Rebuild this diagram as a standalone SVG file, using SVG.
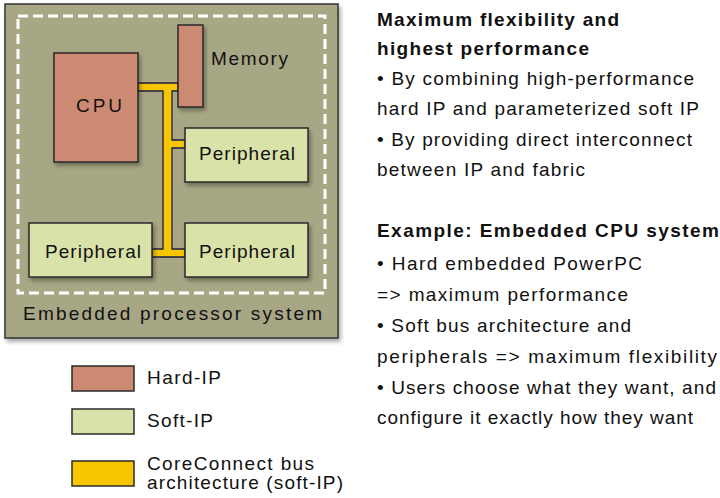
<svg xmlns="http://www.w3.org/2000/svg" width="720" height="498" viewBox="0 0 720 498">
<defs>
<filter id="sh" x="-10%" y="-10%" width="130%" height="130%">
<feGaussianBlur in="SourceAlpha" stdDeviation="2"/>
<feOffset dx="2" dy="3" result="b"/>
<feComponentTransfer><feFuncA type="linear" slope="0.35"/></feComponentTransfer>
<feMerge><feMergeNode/><feMergeNode in="SourceGraphic"/></feMerge>
</filter>
<style>
text{font-family:"Liberation Sans",Arial,Helvetica,sans-serif;fill:#111;}
.t{font-size:19px;}
.b{font-size:19px;font-weight:bold;}
.n{font-size:19px;}
.hard{fill:#cd8a72;stroke:#2a2a2a;stroke-width:1.5;}
.soft{fill:#d9e2a8;stroke:#2a2a2a;stroke-width:1.5;}
.bus{fill:#f7c600;stroke:#1c1c40;stroke-width:1.3;}
</style>
</defs>
<rect width="720" height="498" fill="#ffffff"/>

<g id="system">
<rect x="5" y="4" width="333" height="334" fill="#a8a785" stroke="#333" stroke-width="1.5" filter="url(#sh)"/>
<rect x="18" y="16" width="307" height="277" fill="none" stroke="#ffffff" stroke-width="3" stroke-dasharray="10 5"/>
<text class="n" x="23" y="320" textLength="299" font-size="21">Embedded processor system</text>
</g>

<g id="connectors">
<path class="bus" d="M138,83 H178 V91 H172 V140 H185 V148 H172 V249 H185 V257 H152 V249 H163 V91 H138 Z"/>
</g>

<g id="cpu">
<rect class="hard" x="54" y="53" width="84" height="109" filter="url(#sh)"/>
<text class="n" x="76" y="112" textLength="46" font-size="20">CPU</text>
</g>

<g id="memory">
<rect class="hard" x="178" y="25" width="25" height="82" filter="url(#sh)"/>
<text class="n" x="211" y="65" textLength="77">Memory</text>
</g>

<g id="peripheral1">
<rect class="soft" x="185" y="128" width="123" height="54" filter="url(#sh)"/>
<text class="n" x="199" y="160" textLength="96" font-size="20">Peripheral</text>
</g>

<g id="peripheral2">
<rect class="soft" x="29" y="223" width="123" height="54" filter="url(#sh)"/>
<text class="n" x="45" y="258" textLength="96" font-size="20">Peripheral</text>
</g>

<g id="peripheral3">
<rect class="soft" x="185" y="223" width="123" height="54" filter="url(#sh)"/>
<text class="n" x="199" y="258" textLength="96" font-size="20">Peripheral</text>
</g>

<g id="legend">
<rect class="hard" x="72" y="366" width="62" height="25"/>
<text class="n" x="147" y="384" textLength="74">Hard-IP</text>
<rect class="soft" x="72" y="409" width="62" height="25"/>
<text class="n" x="147" y="427" textLength="66">Soft-IP</text>
<rect x="72" y="461" width="62" height="25" fill="#f7c600" stroke="#2a2a2a" stroke-width="1.5"/>
<text class="n" x="147" y="470" textLength="167">CoreConnect bus</text>
<text class="n" x="147" y="489" textLength="196">architecture (soft-IP)</text>
</g>

<g id="description">
<text class="b" x="377" y="26" textLength="242">Maximum flexibility and</text>
<text class="b" x="377" y="55" textLength="212">highest performance</text>
<text class="t" x="377" y="85" textLength="317">• By combining high-performance</text>
<text class="t" x="377" y="115" textLength="322">hard IP and parameterized soft IP</text>
<text class="t" x="377" y="146" textLength="315">• By providing direct interconnect</text>
<text class="t" x="377" y="176" textLength="208">between IP and fabric</text>
<text class="b" x="377" y="237" textLength="342">Example: Embedded CPU system</text>
<text class="t" x="377" y="270" textLength="265">• Hard embedded PowerPC</text>
<text class="t" x="377" y="301" textLength="251">=&gt; maximum performance</text>
<text class="t" x="377" y="332" textLength="254">• Soft bus architecture and</text>
<text class="t" x="377" y="363" textLength="340">peripherals =&gt; maximum flexibility</text>
<text class="t" x="377" y="394" textLength="339">• Users choose what they want, and</text>
<text class="t" x="377" y="424" textLength="316">configure it exactly how they want</text>
</g>
</svg>
